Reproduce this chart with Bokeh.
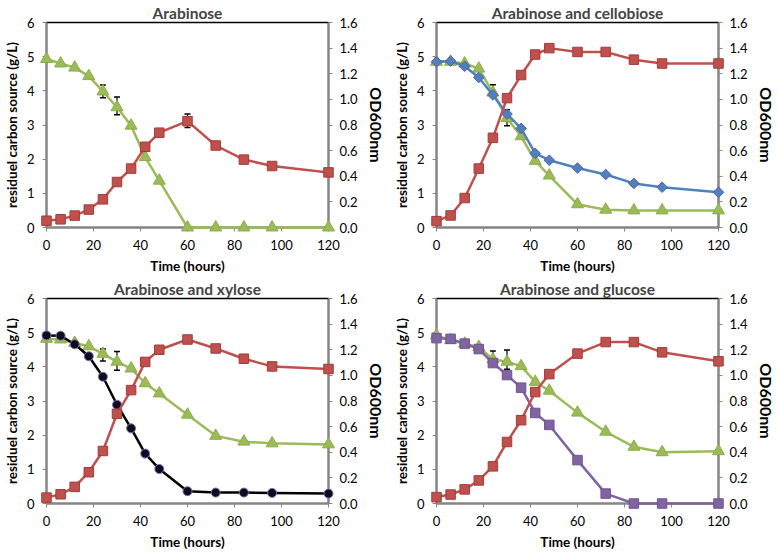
import math
from bokeh.plotting import figure
from bokeh.models import Range1d, LinearAxis, Whisker, ColumnDataSource, FixedTicker, TeeHead, NumeralTickFormatter
from bokeh.layouts import column, row
from bokeh.embed import file_html
from bokeh.resources import INLINE

# ---------------- data ----------------
hours = [0, 6, 12, 18, 24, 30, 36, 42, 48, 60, 72, 84, 96, 120]

x_ticks = [0, 20, 40, 60, 80, 100, 120]
left_ticks = [0, 1, 2, 3, 4, 5, 6]
right_ticks = [0.0, 0.2, 0.4, 0.6, 0.8, 1.0, 1.2, 1.4, 1.6]

titles = ["Arabinose", "Arabinose and cellobiose", "Arabinose and xylose", "Arabinose and glucose"]

# Panel 1: Arabinose
p1_arabinose = [4.93, 4.80, 4.68, 4.43, 3.98, 3.52, 2.98, 2.06, 1.37, 0.0, 0.0, 0.0, 0.0, 0.0]
p1_od = [0.053, 0.064, 0.093, 0.14, 0.22, 0.355, 0.46, 0.63, 0.74, 0.83, 0.64, 0.53, 0.48, 0.43]
p1_err_x = [24, 30]
p1_err_lo = [3.80, 3.30]
p1_err_hi = [4.17, 3.82]
p1_od_err_x = [60]
p1_od_err_lo = [0.78]
p1_od_err_hi = [0.885]

# Panel 2: Arabinose and cellobiose
p2_arabinose = [4.85, 4.85, 4.80, 4.65, 3.95, 3.20, 2.67, 1.95, 1.52, 0.68, 0.52, 0.50, 0.50, 0.50]
p2_cellobiose = [4.85, 4.87, 4.72, 4.39, 3.88, 3.32, 2.90, 2.17, 1.97, 1.74, 1.55, 1.29, 1.18, 1.03]
p2_od = [0.05, 0.094, 0.23, 0.46, 0.70, 1.01, 1.19, 1.35, 1.40, 1.37, 1.37, 1.31, 1.28, 1.28]
p2_err_x = [24, 30]
p2_err_lo = [3.85, 2.98]
p2_err_hi = [4.18, 3.45]

# Panel 3: Arabinose and xylose
p3_arabinose = [4.82, 4.80, 4.70, 4.60, 4.38, 4.15, 3.95, 3.52, 3.22, 2.60, 1.98, 1.81, 1.76, 1.73]
p3_xylose = [4.92, 4.91, 4.66, 4.31, 3.71, 2.89, 2.20, 1.46, 1.01, 0.36, 0.32, 0.32, 0.31, 0.29]
p3_od = [0.046, 0.072, 0.13, 0.244, 0.41, 0.70, 0.885, 1.105, 1.20, 1.28, 1.21, 1.13, 1.07, 1.05]
p3_err_x = [24, 30]
p3_err_lo = [4.17, 3.90]
p3_err_hi = [4.52, 4.45]

# Panel 4: Arabinose and glucose
p4_arabinose = [4.92, 4.78, 4.68, 4.58, 4.22, 4.15, 4.02, 3.56, 3.30, 2.66, 2.10, 1.66, 1.50, 1.53]
p4_glucose = [4.84, 4.82, 4.68, 4.52, 4.11, 3.76, 3.39, 2.65, 2.30, 1.27, 0.29, 0.0, 0.0, 0.0]
p4_od = [0.05, 0.07, 0.11, 0.18, 0.29, 0.48, 0.65, 0.87, 1.01, 1.17, 1.26, 1.26, 1.18, 1.11]
p4_err_x = [24, 30]
p4_err_lo = [4.13, 3.93]
p4_err_hi = [4.46, 4.49]

# ---------------- style ----------------
FONT = "Lato"
AXIS_GRAY = "#868686"
RED = ("#C0504D", "#A13C39")
GREEN = ("#9BBB59", "#8CAC4B")
BLUE = ("#4F81BD", "#5A5DAA")
PURPLE = ("#8064A2", "#6E5492")
BLACK = ("#0E0C1C", "#7B6DB8")

FW, FH = 282, 205


def style_axis(ax, label, label_size="13.5px", standoff=7, title_standoff=4):
    ax.axis_label = label
    ax.axis_label_text_font = FONT
    ax.axis_label_text_font_size = label_size
    ax.axis_label_text_font_style = "bold"
    ax.axis_label_text_color = "black"
    ax.axis_label_standoff = title_standoff
    ax.major_label_text_font = FONT
    ax.major_label_text_font_size = "13px"
    ax.major_label_text_color = "black"
    ax.major_label_standoff = standoff
    ax.axis_line_color = AXIS_GRAY
    ax.axis_line_width = 2
    ax.major_tick_line_color = AXIS_GRAY
    ax.major_tick_line_width = 1
    ax.major_tick_in = 0
    ax.major_tick_out = 4
    ax.minor_tick_line_color = None


def make_panel(title, sugars, od, err_x, err_lo, err_hi, od_err=None,
               left=40, right=58):
    p = figure(output_backend="svg", toolbar_location=None,
               frame_width=FW, frame_height=FH,
               x_range=Range1d(0, 120), y_range=Range1d(0, 6),
               min_border_left=left, min_border_right=right,
               min_border_top=21, min_border_bottom=44,
               background_fill_color="white", border_fill_color="white")
    p.extra_y_ranges = {"od": Range1d(0, 1.6)}
    p.title.text = title
    p.title.align = "center"
    p.title.text_font = FONT
    p.title.text_font_size = "15.5px"
    p.title.text_font_style = "bold"
    p.title.standoff = 2
    p.xgrid.visible = False
    p.ygrid.visible = False
    p.outline_line_color = "black"
    p.outline_line_width = 1.5

    p.xaxis.ticker = FixedTicker(ticks=x_ticks)
    p.yaxis.ticker = FixedTicker(ticks=left_ticks)
    style_axis(p.xaxis[0], "Time (hours)", standoff=8, title_standoff=5)
    style_axis(p.yaxis[0], "residuel carbon source (g/L)", standoff=8, title_standoff=4)

    rax = LinearAxis(y_range_name="od", ticker=FixedTicker(ticks=right_ticks),
                     formatter=NumeralTickFormatter(format="0.0"))
    style_axis(rax, "OD600nm", label_size="16px", standoff=7, title_standoff=6)
    p.add_layout(rax, "right")

    # error bars (drawn under markers)
    esrc = ColumnDataSource(dict(x=err_x, lo=err_lo, hi=err_hi))
    w = Whisker(base="x", lower="lo", upper="hi", source=esrc,
                line_color="black", line_width=1.2,
                upper_head=TeeHead(size=6, line_color="black", line_width=1.5),
                lower_head=TeeHead(size=6, line_color="black", line_width=1.5))
    p.add_layout(w)
    if od_err is not None:
        osrc = ColumnDataSource(dict(x=od_err[0], lo=od_err[1], hi=od_err[2]))
        w2 = Whisker(base="x", lower="lo", upper="hi", source=osrc, y_range_name="od",
                     line_color="black", line_width=1.2,
                     upper_head=TeeHead(size=6, line_color="black", line_width=1.5),
                     lower_head=TeeHead(size=6, line_color="black", line_width=1.5))
        p.add_layout(w2)

    for vals, marker, size, angle, colors, linecol in sugars:
        p.line(hours, vals, line_color=linecol, line_width=2.5, level="overlay")
        p.scatter(hours, vals, marker=marker, size=size, angle=angle,
                  fill_color=colors[0], line_color=colors[1], line_width=1,
                  level="overlay")

    p.line(hours, od, line_color=RED[0], line_width=2.5, y_range_name="od", level="overlay")
    p.scatter(hours, od, marker="square", size=9.5, fill_color=RED[0], line_color=RED[1],
              line_width=1, y_range_name="od", level="overlay")
    return p


tri = ("triangle", 12, 0, GREEN, GREEN[0])

p1 = make_panel(titles[0], [(p1_arabinose,) + tri], p1_od,
                p1_err_x, p1_err_lo, p1_err_hi,
                od_err=(p1_od_err_x, p1_od_err_lo, p1_od_err_hi), left=40, right=58)
p2 = make_panel(titles[1], [(p2_arabinose,) + tri,
                            (p2_cellobiose, "square", 7.5, math.pi / 4, BLUE, BLUE[0])],
                p2_od, p2_err_x, p2_err_lo, p2_err_hi, left=48, right=52)
p3 = make_panel(titles[2], [(p3_arabinose,) + tri,
                            (p3_xylose, "circle", 9, 0, BLACK, "black")],
                p3_od, p3_err_x, p3_err_lo, p3_err_hi, left=42, right=56)
p4 = make_panel(titles[3], [(p4_arabinose,) + tri,
                            (p4_glucose, "square", 9.5, 0, PURPLE, PURPLE[0])],
                p4_od, p4_err_x, p4_err_lo, p4_err_hi, left=48, right=52)

layout = column(row(p1, p2), row(p3, p4))
open("out.html", "w").write(file_html(layout, INLINE))
